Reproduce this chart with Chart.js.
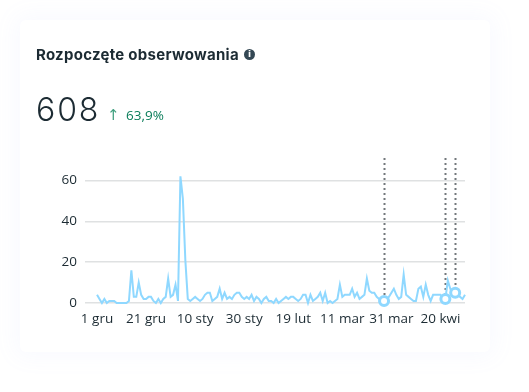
<!DOCTYPE html>
<html><head><meta charset="utf-8">
<style>
html,body{margin:0;padding:0;width:529px;height:392px;overflow:hidden;background:#fff;font-family:Inter,"Open Sans",sans-serif;color:#1c2b33}
#card{position:absolute;left:20px;top:20px;width:470px;height:332px;background:#fff;border-radius:6px;box-shadow:0 0 22px 6px rgba(150,160,250,.055)}
#c{position:absolute;left:0;top:0}
#title{position:absolute;left:36px;top:46px;font-size:15px;font-weight:700;line-height:18px;white-space:nowrap;letter-spacing:.27px}
#info{position:absolute;left:244px;top:49px;width:11px;height:11px;border-radius:50%;background:#344854;color:#fff;font:700 9px/11px "DejaVu Sans",sans-serif;text-align:center}
#num{position:absolute;left:36px;top:90px;font-size:32px;line-height:40px;font-weight:300;letter-spacing:1.9px}
#up{position:absolute;left:107px;top:105px;font-size:15px;line-height:20px;color:#3f9f7e;font-family:"DejaVu Sans",sans-serif}
#pct{position:absolute;left:126px;top:106px;font-size:13.5px;line-height:18px;color:#0a7d5a;font-family:"Open Sans",sans-serif}
</style>
<script src="https://cdn.jsdelivr.net/npm/chart.js@4"></script>
</head><body>
<div id="card"></div>
<canvas id="c" width="529" height="392"></canvas>
<div id="title">Rozpoczęte obserwowania</div><div id="info">i</div>
<div id="num">608</div><div id="up">↑</div><div id="pct">63,9%</div>
<script>
const followers = [4,2,0,2,0,1,1,1,0,0,0,0,0,1,16,3,3,10,4,2,2,3,3,1,0,2,0,2,3,12,3,4,9,1,62,51,21,2,1,2,3,2,1,2,4,5,5,1,2,3,7,2,5,2,3,2,4,5,5,3,2,3,2,4,1,3,2,0,2,3,1,1,0,2,0,1,2,3,2,3,3,2,1,2,4,4,0,4,1,2,3,5,1,5,0,1,0,1,2,9,3,4,4,4,7,3,5,2,3,4,12,6,5,5,3,2,1,1,2,3,5,7,4,2,3,14,4,3,2,1,1,7,8,3,9,4,1,4,4,4,4,2,2,11,7,4,5,4,3,2,4];
const tickLabels = ["1 gru","21 gru","10 sty","30 sty","19 lut","11 mar","31 mar","20 kwi"];
const yTicks = [0,20,40,60];
const markerDays = [117,142,146];
const lineColor = "#8fd8ff";
const points = followers.map((v,i)=>({x:i,y:v}));
const guides = {id:"guides",beforeDatasetsDraw(ch){
  const {ctx,scales:{x,y}}=ch;
  ctx.save();ctx.strokeStyle="#73787c";ctx.lineWidth=2;ctx.setLineDash([2,3]);
  markerDays.forEach(d=>{const px=Math.round(x.getPixelForValue(d))+.5;ctx.beginPath();ctx.moveTo(px,ch.chartArea.top);ctx.lineTo(px,y.getPixelForValue(followers[d]));ctx.stroke();});
  ctx.restore();
}};
new Chart(document.getElementById("c"),{
  type:"line",
  data:{datasets:[{data:points,borderColor:lineColor,borderWidth:2,tension:0,clip:false,
    pointRadius:c=>markerDays.includes(c.dataIndex)?4.5:0,
    pointBorderWidth:3,pointBorderColor:lineColor,pointBackgroundColor:"#fff"}]},
  options:{responsive:false,animation:false,
    layout:{padding:{left:55,right:64,top:158,bottom:62}},
    plugins:{legend:{display:false},tooltip:{enabled:false}},
    scales:{
      x:{type:"linear",min:-4.9,max:150,border:{display:false},grid:{display:false},
        afterFit(s){s.height=27;},
        ticks:{includeBounds:false,stepSize:20,maxRotation:0,autoSkip:false,padding:0,color:"#1c2b33",
          font:{family:"Open Sans",size:13.5},callback:v=>tickLabels[v/20]}},
      y:{min:0,max:71,border:{display:false},grid:{color:"#dfe1e2",lineWidth:1.5,drawTicks:false},
        afterFit(s){s.width=30;},
        ticks:{stepSize:20,includeBounds:false,padding:8,color:"#1c2b33",font:{family:"Open Sans",size:13.5},
          callback:v=>yTicks.includes(v)?v:""}}
    }},
  plugins:[guides]
});
</script>
</body></html>
